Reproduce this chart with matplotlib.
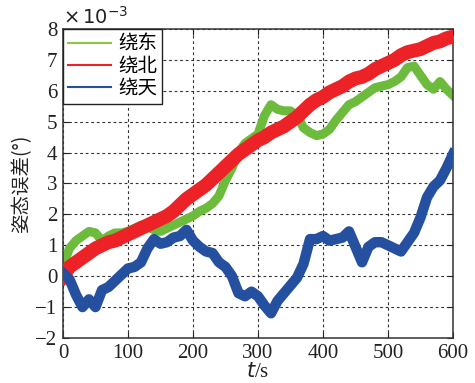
import matplotlib.pyplot as plt

# values, in units of 1e-3 degree
t = list(range(0, 601, 10))

east = [0.35, 0.9, 1.15, 1.3, 1.45, 1.4, 1.15, 1.3, 1.4, 1.4,
        1.45, 1.55, 1.65, 1.6, 1.5, 1.45, 1.55, 1.65, 1.75, 1.85,
        1.95, 2.1, 2.2, 2.35, 2.6, 3.1, 3.5, 4.0, 4.3, 4.45,
        4.6, 5.2, 5.55, 5.4, 5.35, 5.35, 5.2, 4.8, 4.65, 4.55,
        4.6, 4.75, 5.05, 5.3, 5.55, 5.65, 5.8, 5.95, 6.1, 6.15,
        6.2, 6.3, 6.45, 6.75, 6.8, 6.5, 6.2, 6.05, 6.3, 6.05,
        5.85]

north = [0.0, 0.3, 0.45, 0.6, 0.75, 0.9, 1.0, 1.1, 1.15, 1.25,
         1.35, 1.45, 1.55, 1.65, 1.75, 1.85, 1.95, 2.1, 2.3, 2.5,
         2.65, 2.8, 2.95, 3.15, 3.35, 3.55, 3.75, 3.95, 4.1, 4.25,
         4.4, 4.5, 4.65, 4.75, 4.85, 5.0, 5.15, 5.35, 5.55, 5.7,
         5.8, 5.95, 6.05, 6.15, 6.3, 6.4, 6.45, 6.55, 6.7, 6.8,
         6.9, 7.0, 7.15, 7.25, 7.3, 7.35, 7.45, 7.55, 7.6, 7.7,
         7.75]

up = [0.1, -0.1, -0.6, -1.0, -0.75, -1.0, -0.45, -0.35, -0.15, 0.05,
      0.25, 0.3, 0.45, 0.9, 1.2, 1.05, 1.1, 1.25, 1.3, 1.5,
      1.15, 0.95, 0.8, 0.75, 0.45, 0.3, 0.0, -0.55, -0.65, -0.5,
      -0.65, -0.95, -1.2, -0.8, -0.55, -0.3, -0.05, 0.4, 1.2, 1.2,
      1.3, 1.15, 1.2, 1.25, 1.45, 0.95, 0.45, 0.95, 1.1, 1.1,
      1.0, 0.9, 0.8, 1.1, 1.4, 1.9, 2.55, 2.9, 3.1, 3.5,
      3.95]

plt.rcParams['font.family'] = ['Liberation Serif', 'Noto Sans CJK SC']
plt.rcParams['axes.unicode_minus'] = True

fig = plt.figure(figsize=(4.75, 3.83), dpi=100)
ax = fig.add_axes([0.1326, 0.1175, 0.8211, 0.8068])

l1, = ax.plot(t, east, color='#6cbb3c', lw=6.5, solid_joinstyle='round', zorder=2)
l2, = ax.plot(t, north, color='#ec2227', lw=10, solid_joinstyle='round', zorder=3)
l3, = ax.plot(t, up, color='#2550a0', lw=7.5, solid_joinstyle='round', zorder=4)

ax.set_xlim(0, 600)
ax.set_ylim(-2, 8)
ax.set_xticks(range(0, 601, 100))
ax.set_yticks(range(-2, 9))
ax.tick_params(direction='in', labelsize=15, length=4, top=True, right=True,
               colors='#222222', pad=4)
ax.grid(True, color='#333333', linestyle=(0, (2.5, 2.5)), linewidth=0.8)
for s in ax.spines.values():
    s.set_linewidth(1.1)
    s.set_color('#333333')

ax.text(0.0, 1.005, r'$\times\,10^{-3}$', transform=ax.transAxes,
        fontsize=14, ha='left', va='bottom', color='#222222',
        family='DejaVu Serif')

ax.set_xlabel(r'$t$/s', fontsize=15, labelpad=0, color='#222222')
ax.set_ylabel('姿态误差(°)', fontsize=14, labelpad=2, color='#222222',
              family=['Noto Sans CJK SC', 'DejaVu Sans'])

leg = ax.legend([l1, l2, l3], ['绕东', '绕北', '绕天'], loc='upper left',
                prop={'family': 'Noto Sans CJK SC', 'size': 14},
                fancybox=False, framealpha=1, edgecolor='#222222',
                borderaxespad=0, handlelength=2.2, handletextpad=0.4,
                labelspacing=0.05, borderpad=0.25)
leg.get_frame().set_linewidth(1.0)
leg.legend_handles[0].set_color('#8dc63f')
for h in leg.legend_handles:
    h.set_linewidth(1.5)

plt.savefig('out.png', dpi=100)
